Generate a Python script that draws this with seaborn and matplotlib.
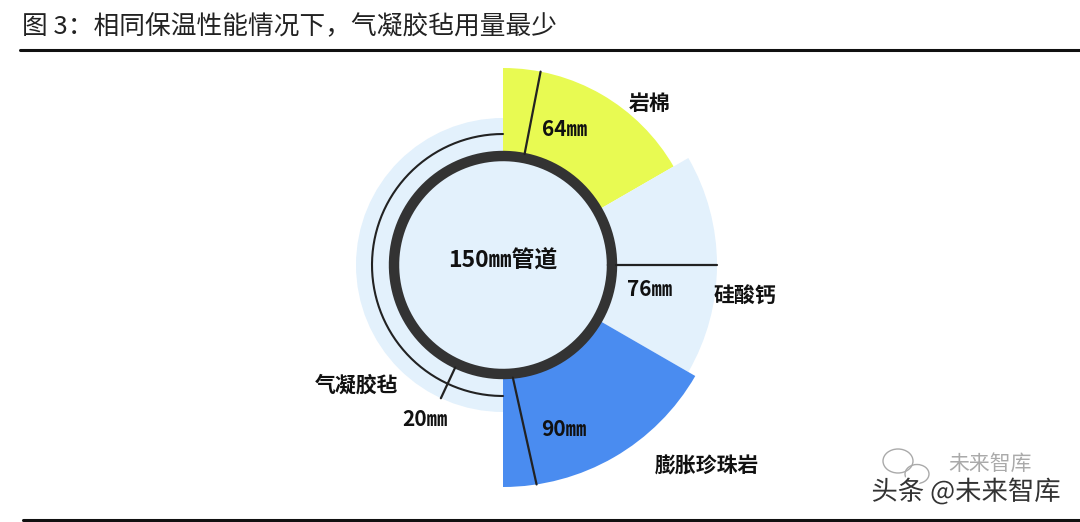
import numpy as np
import matplotlib
matplotlib.use("Agg")
import matplotlib.pyplot as plt
from matplotlib.lines import Line2D
from matplotlib.patches import Ellipse
import matplotlib.patheffects as pe
import seaborn as sns

# ---------------- data ----------------
materials = ["气凝胶毡", "岩棉", "硅酸钙", "膨胀珍珠岩"]
thickness_mm = [20, 64, 76, 90]
thickness_labels = [f"{t}㎜" for t in thickness_mm]
outer_radius = [147, 197, 214, 222]          # drawn outer radius of each sector
sector_start_deg = [90, 30, -30, -90]        # sector start angle
sector_span_deg = [180, 60, 60, 60]          # sector angular width
sector_colors = ["#E3F1FC", "#E8FA52", "#E3F1FC", "#4A8CF0"]
measure_angle_deg = [245, 79, 0, -83]        # thickness measurement line angle
pipe_label = "150㎜管道"
pipe_radius = 109
title = "图 3：相同保温性能情况下，气凝胶毡用量最少"
watermark = "头条 @未来智库"

# ---------------- style ----------------
sns.set_theme(style="white")
plt.rcParams["font.family"] = ["Noto Sans CJK SC", "DejaVu Sans"]

W, H = 1080, 522
fig = plt.figure(figsize=(W / 100, H / 100), dpi=100)
fig.patch.set_facecolor("white")

cx, cy = 503, 265   # centre in pixel coords (from top)
R = 250
ax = fig.add_axes([(cx - R) / W, (H - cy - R) / H, 2 * R / W, 2 * R / H],
                  projection="polar")
ax.set_ylim(0, R)
ax.set_axis_off()

# sectors
for r, s, span, c in zip(outer_radius, sector_start_deg, sector_span_deg, sector_colors):
    th = np.deg2rad(s + span / 2)
    ax.bar(th, r, width=np.deg2rad(span), bottom=0, color=c, edgecolor="none",
           linewidth=0, align="center", zorder=1)

# pipe interior + wall
theta = np.linspace(0, 2 * np.pi, 400)
ax.fill(theta, np.full_like(theta, pipe_radius), color="#E3F1FC", zorder=2, lw=0)
ax.plot(theta, np.full_like(theta, pipe_radius), color="#333333", lw=7.5, zorder=3)

# thin aerogel arc
arc = np.linspace(np.deg2rad(90), np.deg2rad(270), 200)
ax.plot(arc, np.full_like(arc, 131), color="#222222", lw=1.5, zorder=3)

# measurement lines
for ang, r in zip(measure_angle_deg, outer_radius):
    if ang == -83:
        ax.plot([np.deg2rad(-85), np.deg2rad(-81.3)], [pipe_radius + 4, r],
                color="#222222", lw=1.6, zorder=4)
    else:
        a = np.deg2rad(ang)
        ax.plot([a, a], [pipe_radius + 4, r], color="#222222", lw=1.6, zorder=4)

# ---------------- texts ----------------
def ftxt(x, y, s, size=14, weight="bold", ha="center", color="#111111", **kw):
    return fig.text(x / W, 1 - y / H, s, fontsize=size, fontweight=weight,
                    ha=ha, va="center", color=color, **kw)

ftxt(cx, 261, pipe_label, size=16.5)
# material names
ftxt(650, 104, materials[1], size=15)
ftxt(745, 296, materials[2], size=15)
ftxt(707, 466, materials[3], size=15)
ftxt(357, 385, materials[0], size=15)
# thickness labels
ftxt(565, 130, thickness_labels[1], size=15)
ftxt(650, 289, thickness_labels[2], size=15)
ftxt(564, 430, thickness_labels[3], size=15)
ftxt(425, 420, thickness_labels[0], size=15)

# title and rules
fig.text(22 / W, 1 - 27 / H, title, fontsize=18.5, ha="left", va="center",
         color="#222222")
fig.add_artist(Line2D([20 / W, 1.0], [1 - 49.5 / H] * 2, color="#111111", lw=2.2))
fig.add_artist(Line2D([23 / W, 1.0], [1 - 520 / H] * 2, color="#111111", lw=2.2))

# watermark
fig.text(990 / W, 1 - 464 / H, "未来智库", fontsize=15, ha="center", va="center",
         color="#aaaaaa")
for (ex, ey, ew, eh) in [(898, 461, 30, 24), (917, 474, 24, 19)]:
    fig.add_artist(Ellipse((ex / W, 1 - ey / H), ew / W, eh / H,
                           transform=fig.transFigure, fill=False,
                           edgecolor="#aaaaaa", lw=1))
fig.text(966 / W, 1 - 492 / H, watermark, fontsize=19, ha="center", va="center",
         color="#333333",
         path_effects=[pe.withStroke(linewidth=3, foreground="white")])

fig.savefig("out.png", dpi=100, facecolor="white")
